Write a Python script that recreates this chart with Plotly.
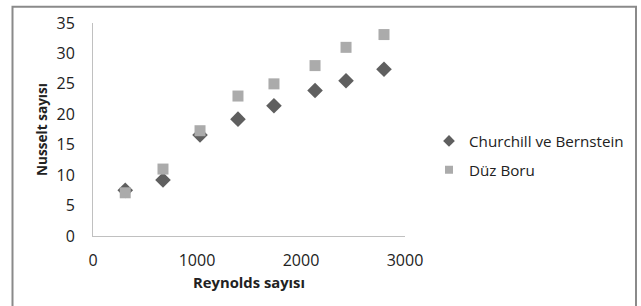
import plotly.graph_objects as go

reynolds = [310, 673, 1029, 1394, 1740, 2135, 2433, 2798]
churchill = [7.5, 9.2, 16.6, 19.2, 21.4, 23.9, 25.5, 27.4]
duz_boru = [7.1, 11.0, 17.3, 23.0, 25.0, 28.0, 31.0, 33.1]

x_ticks = [0, 1000, 2000, 3000]
y_ticks = [0, 5, 10, 15, 20, 25, 30, 35]

FONT = "Open Sans"
L, R, T, B = 93, 236, 20, 70
W, H = 641, 306
pw = W - L - R
ph = H - T - B

DIA = "#5f5f5f"
SQ = "#ababab"

fig = go.Figure()
fig.add_trace(go.Scatter(x=reynolds, y=churchill, mode="markers", name="Churchill ve Bernstein",
                         showlegend=False,
                         marker=dict(symbol="diamond", size=12, color=DIA)))
fig.add_trace(go.Scatter(x=reynolds, y=duz_boru, mode="markers", name="Düz Boru",
                         showlegend=False,
                         marker=dict(symbol="square", size=11, color=SQ)))
# legend entries with smaller symbols, as in the reference
fig.add_trace(go.Scatter(x=[None], y=[None], mode="markers", name="Churchill ve Bernstein",
                         legendgroup="a",
                         marker=dict(symbol="diamond", size=9, color=DIA)))
fig.add_trace(go.Scatter(x=[None], y=[None], mode="markers", name="Düz Boru",
                         legendgroup="b",
                         marker=dict(symbol="square", size=8, color=SQ)))

def px_x(px):
    return (px - L) / pw

def px_y(py):
    return (H - B - py) / ph

fig.update_layout(
    width=W, height=H,
    margin=dict(l=L, r=R, t=T, b=B),
    paper_bgcolor="white", plot_bgcolor="white",
    font=dict(family=FONT, size=14, color="#222222"),
    xaxis=dict(range=[0, 3000], tickvals=x_ticks, showgrid=False, zeroline=False,
               showline=True, linecolor="#c0c0c0", linewidth=1, ticks="",
               ticklabelstandoff=10, tickfont=dict(size=16),
               title=dict(text="<b>Reynolds sayısı</b>", font=dict(size=14.8), standoff=7)),
    yaxis=dict(range=[0, 35], tickvals=y_ticks, showgrid=False, zeroline=False,
               showline=True, linecolor="#c0c0c0", linewidth=1, ticks="",
               ticklabelstandoff=14, tickfont=dict(size=16),
               title=dict(text="<b>Nusselt sayısı</b>", font=dict(size=13.6), standoff=5)),
    legend=dict(x=px_x(429), y=px_y(123), xanchor="left", yanchor="top",
                font=dict(size=15.2, family=FONT), bgcolor="rgba(0,0,0,0)",
                itemwidth=30, tracegroupgap=6),
    showlegend=True,
    shapes=[dict(type="rect", xref="paper", yref="paper",
                 x0=px_x(12.5), x1=px_x(636), y0=px_y(320), y1=px_y(3.5),
                 line=dict(color="#8a8a8a", width=2), layer="below")],
)

fig.write_html("out.html", config={"displayModeBar": False},
               post_script="document.body.style.margin='0';")
